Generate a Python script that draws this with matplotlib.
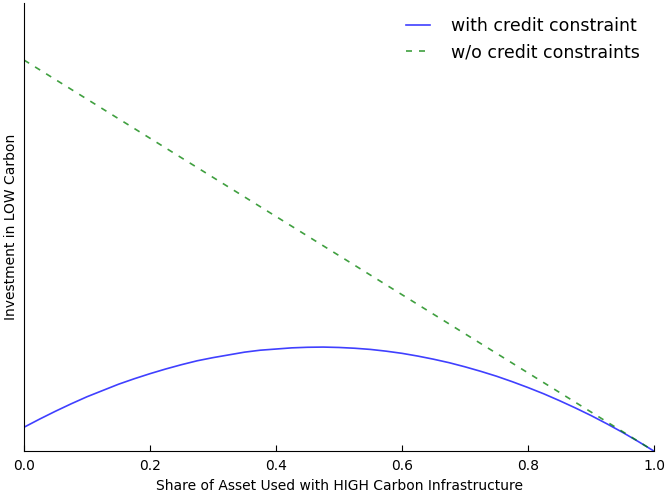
import matplotlib
matplotlib.use('Agg')
import matplotlib.pyplot as plt

# share of asset used with HIGH carbon infrastructure
share = [0.0, 0.025, 0.05, 0.075, 0.1, 0.125, 0.15, 0.175, 0.2, 0.225, 0.25,
         0.275, 0.3, 0.325, 0.35, 0.375, 0.4, 0.425, 0.45, 0.475, 0.5,
         0.525, 0.55, 0.575, 0.6, 0.625, 0.65, 0.675, 0.7, 0.725, 0.75,
         0.775, 0.8, 0.825, 0.85, 0.875, 0.9, 0.925, 0.95, 0.975, 1.0]
# investment in LOW carbon, with credit constraint
with_cc = [0.061, 0.082, 0.102, 0.121, 0.139, 0.155, 0.171, 0.185, 0.198, 0.210, 0.221,
           0.231, 0.239, 0.246, 0.253, 0.258, 0.261, 0.264, 0.2655, 0.266, 0.265,
           0.263, 0.260, 0.2555, 0.250, 0.243, 0.235, 0.226, 0.2155, 0.204, 0.1915,
           0.1775, 0.1625, 0.1465, 0.129, 0.1105, 0.091, 0.070, 0.048, 0.0245, 0.0]
# without credit constraints
share_free = [0.0, 1.0]
without_cc = [1.0, 0.0]

fig = plt.figure(figsize=(6.67, 4.93), dpi=100)
ax = fig.add_axes([0.036, 0.085, 0.9445, 0.909])

ax.plot(share, with_cc, color='blue', alpha=0.75, lw=1.2, label='with credit constraint')
ax.plot(share_free, without_cc, '--', color='green', alpha=0.75, lw=1.2,
        dashes=(3.6, 4.2), label='w/o credit constraints')

ax.set_xlim(0, 1)
ax.set_ylim(0, 1.146)
ax.spines['right'].set_color('none')
ax.spines['top'].set_color('none')
ax.set_yticks([])
ax.set_xticks([0.0, 0.2, 0.4, 0.6, 0.8, 1.0])
ax.set_xticklabels(['0.0', '0.2', '0.4', '0.6', '0.8', '1.0'])
ax.tick_params(axis='x', direction='in', length=4, labelsize=10, pad=6)

ax.set_xlabel('Share of Asset Used with HIGH Carbon Infrastructure', fontsize=10)
ax.set_ylabel('Investment in LOW Carbon', fontsize=10, labelpad=4)

ax.legend(loc='upper right', frameon=False, fontsize=12.5, handlelength=1.4,
          handletextpad=1.2, borderaxespad=0.4)

fig.savefig('out.png', dpi=100)
